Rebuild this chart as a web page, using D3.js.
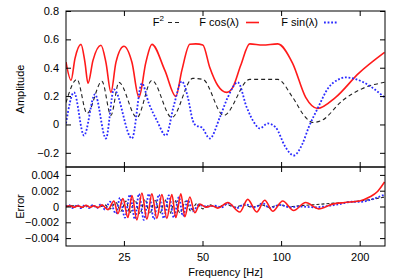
<!DOCTYPE html>
<html>
<head>
<meta charset="utf-8">
<script src="https://cdn.jsdelivr.net/npm/d3@7"></script>
<style>
  body { margin: 0; background: #fff; }
  text { font-family: "Liberation Sans", Arial, sans-serif; font-size: 11px; fill: #000; }
</style>
</head>
<body>
<div id="chart"></div>
<script>
// Top panel: amplitude curves (frequency in Hz, value)
var cosFreq = [15.0, 15.68, 16.24, 17.12, 17.73, 18.21, 19.03, 20.42, 21.33, 22.30, 23.30, 25.0, 26.83, 28.53, 30.34, 31.99, 35.87, 39.52, 41.67, 44.71, 47.13, 50.13, 53.31, 57.20, 61.92, 65.29, 70.05, 75.83, 85.03, 97.04, 110.7, 124.2, 138.0, 161.7, 198.1, 249];
var cosVal  = [0.44, 0.311, 0.466, 0.565, 0.438, 0.29, 0.452, 0.558, 0.438, 0.226, 0.438, 0.551, 0.438, 0.191, 0.438, 0.565, 0.381, 0.198, 0.381, 0.565, 0.568, 0.561, 0.402, 0.275, 0.226, 0.261, 0.417, 0.568, 0.56, 0.568, 0.431, 0.191, 0.113, 0.191, 0.36, 0.508];

var sqFreq = [15.0, 16.53, 18.05, 20.60, 22.30, 23.92, 28.03, 31.99, 38.15, 45.90, 50.13, 60.31, 75.83, 97.04, 110.7, 124.2, 132.1, 143.0, 172.0, 205.2, 249];
var sqVal  = [0.155, 0.318, 0.078, 0.304, 0.064, 0.297, 0.049, 0.311, 0.049, 0.325, 0.318, 0.064, 0.318, 0.318, 0.191, 0.049, 0.014, 0.028, 0.169, 0.254, 0.297];

var sinFreq = [15.0, 16.10, 17.58, 19.37, 21.33, 22.89, 26.83, 29.29, 31.16, 33.43, 36.19, 38.83, 41.67, 43.93, 45.90, 47.13, 49.69, 53.31, 58.23, 62.47, 68.22, 73.86, 79.24, 82.81, 88.86, 95.35, 104.1, 111.7, 120.9, 127.5, 138.0, 152.1, 166.1, 176.6, 207.0, 249];
var sinVal  = [0.007, 0.226, -0.078, 0.212, -0.099, 0.247, -0.099, 0.29, 0.148, 0.028, -0.078, 0.134, 0.304, 0.191, 0.028, -0.007, -0.021, -0.099, 0.049, 0.191, 0.297, 0.12, 0.007, -0.028, 0.007, -0.021, -0.162, -0.219, -0.134, -0.021, 0.113, 0.261, 0.318, 0.332, 0.297, 0.191];

// Bottom panel: errors
var errCosFreq = [15.0, 15.54, 16.10, 16.67, 17.27, 17.89, 18.53, 19.20, 19.88, 20.60, 21.71, 22.89, 23.71, 24.78, 25.90, 26.83, 28.03, 29.29, 30.61, 31.99, 33.43, 34.94, 36.51, 38.15, 39.52, 41.30, 42.78, 44.71, 46.72, 48.82, 51.47, 54.26, 57.20, 62.47, 69.44, 74.51, 80.65, 86.54, 92.86, 101.4, 111.7, 124.2, 139.2, 157.5, 175.1, 199.8, 218.2, 234.1, 249];
var errCosVal  = [0, 0.0001, -0.0001, 0.0001, -0.0001, 0.00015, -0.0001, 0.0001, -0.00015, 0.0002, -0.0004, 0.0007, -0.0009, 0.001, -0.0014, 0.0014, -0.0017, 0.0017, -0.0016, 0.0016, -0.0015, 0.0015, -0.0015, 0.0015, -0.0014, 0.0016, -0.0013, 0.0012, -0.0008, 0.0003, -0.0001, 0.0001, -0.0002, 0.0005, -0.0007, 0.0009, -0.0007, 0.0008, -0.0006, 0.0007, -0.0005, 0.0005, -0.0003, 0.0003, 0.0005, 0.0007, 0.0012, 0.0019, 0.0031];

var errSinFreq = [15.0, 15.40, 15.95, 16.53, 17.12, 17.73, 18.37, 19.03, 19.71, 20.42, 21.15, 22.10, 23.30, 24.14, 25.22, 26.36, 27.54, 28.53, 29.81, 31.16, 32.56, 34.02, 35.56, 37.16, 38.83, 40.58, 42.03, 43.93, 45.90, 48.39, 51.93, 55.71, 59.26, 62.47, 67.63, 72.56, 79.24, 85.03, 90.43, 98.76, 107.9, 117.8, 134.4, 153.4, 167.5, 186.2, 203.4, 222.1, 249];
var errSinVal  = [0, 0.0002, -0.0002, 0.0002, -0.0002, 0.0002, -0.0002, 0.0002, -0.0002, 0.0003, -0.0004, 0.0006, -0.0009, 0.0011, -0.0014, 0.0015, -0.0016, 0.0016, -0.0017, 0.0016, -0.0016, 0.0015, -0.0015, 0.0014, -0.0014, 0.0012, -0.0012, 0.0008, -0.0006, 0.0002, 0, 0.0001, -0.0001, 0.0004, -0.0002, 0.0003, -0.0001, 0.0004, -0.0002, 0.0002, -0.0001, 0, -0.0001, 0.0001, 0.0003, 0.0006, 0.0006, 0.0009, 0.0015];

var errSqFreq = [15.0, 16.24, 17.42, 18.69, 20.06, 21.15, 22.10, 23.30, 24.35, 25.45, 26.36, 27.54, 28.78, 30.08, 31.43, 32.85, 34.33, 35.87, 37.49, 39.18, 40.94, 43.16, 45.10, 47.55, 50.13, 53.31, 57.20, 61.38, 66.45, 71.93, 77.18, 83.55, 90.43, 98.76, 107.9, 117.8, 130.9, 143.0, 156.1, 175.1, 199.8, 222.1, 249];
var errSqVal  = [0, 0.0001, -0.0001, 0.0001, -0.0001, 0.0002, -0.0003, 0.0005, -0.0006, 0.0007, -0.0008, 0.0008, -0.0009, 0.0009, -0.0009, 0.0009, -0.0009, 0.0009, -0.0009, 0.0008, -0.0008, 0.0007, -0.0006, 0.0004, -0.0003, 0.0002, -0.0001, 0.0003, -0.0001, 0.0002, -0.0001, 0.0002, -0.0001, 0.0002, 0, 0.0001, 0.0002, 0.0003, 0.0004, 0.0005, 0.0007, 0.0009, 0.0012];

var xTicks = [25, 50, 100, 200];
var ampTicks = [-0.2, 0, 0.2, 0.4, 0.6, 0.8];
var errTicks = [-0.004, -0.002, 0, 0.002, 0.004];

var svgWidth = 399, svgHeight = 279;
var left = 66, right = 385, top1 = 11, mid = 167, bottom2 = 246;

var svg = d3.select("#chart").append("svg")
    .attr("width", svgWidth)
    .attr("height", svgHeight);

svg.append("rect").attr("width", svgWidth).attr("height", svgHeight).attr("fill", "#fff");

var x = d3.scaleLog().domain([15, 250]).range([left, right]);
var yAmp = d3.scaleLinear().domain([-0.3, 0.8]).range([mid, top1]);
var yErr = d3.scaleLinear().domain([-0.005, 0.005]).range([bottom2, mid]);

// clip regions
var defs = svg.append("defs");
defs.append("clipPath").attr("id", "clipTop").append("rect")
    .attr("x", left).attr("y", top1).attr("width", right - left).attr("height", mid - top1);
defs.append("clipPath").attr("id", "clipBot").append("rect")
    .attr("x", left).attr("y", mid).attr("width", right - left).attr("height", bottom2 - mid);

function zipped(f, v) { return f.map((d, i) => [d, v[i]]); }

function drawLine(g, f, v, y, color, width, dash) {
    var line = d3.line()
        .x(d => x(d[0]))
        .y(d => y(d[1]))
        .curve(d3.curveMonotoneX);
    g.append("path")
        .datum(zipped(f, v))
        .attr("d", line)
        .attr("fill", "none")
        .attr("stroke", color)
        .attr("stroke-width", width)
        .attr("stroke-dasharray", dash);
}

var topG = svg.append("g").attr("clip-path", "url(#clipTop)");
drawLine(topG, sqFreq, sqVal, yAmp, "#222", 1.1, "4,3");
drawLine(topG, cosFreq, cosVal, yAmp, "#ff1a1a", 1.6, null);
drawLine(topG, sinFreq, sinVal, yAmp, "#2a2aff", 1.8, "1.8,1.8");

var botG = svg.append("g").attr("clip-path", "url(#clipBot)");
drawLine(botG, errSqFreq, errSqVal, yErr, "#222", 1.1, "3,2");
drawLine(botG, errSinFreq, errSinVal, yErr, "#2a2aff", 1.8, "1.8,1.8");
drawLine(botG, errCosFreq, errCosVal, yErr, "#ff1a1a", 1.6, null);

// axes (ticks inward, gnuplot style)
var tick = 5;
function plain(axis) { return axis.tickSizeOuter(0); }

var ampFmt = d => d === 0 ? "0" : d3.format(".1f")(d);
var errFmt = d => d === 0 ? "0" : d3.format(".3f")(d);

svg.append("g").attr("transform", `translate(${left},0)`)
    .call(plain(d3.axisLeft(yAmp).tickValues(ampTicks).tickSize(-tick).tickPadding(7).tickFormat(ampFmt)));
svg.append("g").attr("transform", `translate(${right},0)`)
    .call(plain(d3.axisRight(yAmp).tickValues(ampTicks).tickSize(-tick).tickFormat("")));
svg.append("g").attr("transform", `translate(${left},0)`)
    .call(plain(d3.axisLeft(yErr).tickValues(errTicks).tickSize(-tick).tickPadding(7).tickFormat(errFmt)));
svg.append("g").attr("transform", `translate(${right},0)`)
    .call(plain(d3.axisRight(yErr).tickValues(errTicks).tickSize(-tick).tickFormat("")));

svg.append("g").attr("transform", `translate(0,${top1})`)
    .call(plain(d3.axisTop(x).tickValues(xTicks).tickSize(-tick).tickFormat("")));
svg.append("g").attr("transform", `translate(0,${mid})`)
    .call(plain(d3.axisBottom(x).tickValues(xTicks).tickSize(-tick).tickFormat("")));
svg.append("g").attr("transform", `translate(0,${mid})`)
    .call(plain(d3.axisTop(x).tickValues(xTicks).tickSize(-tick).tickFormat("")));
svg.append("g").attr("transform", `translate(0,${bottom2})`)
    .call(plain(d3.axisBottom(x).tickValues(xTicks).tickSize(-tick).tickPadding(7).tickFormat(d3.format("d"))));

svg.selectAll(".domain").remove();
svg.selectAll(".tick line").attr("stroke", "#000");
svg.selectAll(".tick text").attr("font-size", 11).attr("font-family", "Liberation Sans, Arial, sans-serif");

// frames
svg.append("rect").attr("x", left).attr("y", top1).attr("width", right - left).attr("height", mid - top1)
    .attr("fill", "none").attr("stroke", "#000").attr("stroke-width", 1);
svg.append("rect").attr("x", left).attr("y", mid).attr("width", right - left).attr("height", bottom2 - mid)
    .attr("fill", "none").attr("stroke", "#000").attr("stroke-width", 1);

// axis labels
svg.append("text")
    .attr("transform", `translate(24,${(top1 + mid) / 2}) rotate(-90)`)
    .attr("text-anchor", "middle")
    .text("Amplitude");
svg.append("text")
    .attr("transform", `translate(24,${(mid + bottom2) / 2}) rotate(-90)`)
    .attr("text-anchor", "middle")
    .text("Error");
svg.append("text")
    .attr("x", (left + right) / 2)
    .attr("y", 276)
    .attr("text-anchor", "middle")
    .text("Frequency [Hz]");

// legend
var legY = 26, sampleY = 22.5;
var leg = svg.append("g");
var t1 = leg.append("text").attr("x", 164).attr("y", legY).attr("text-anchor", "end");
t1.append("tspan").text("F");
t1.append("tspan").attr("dy", -5).attr("font-size", 8).text("2");
leg.append("line").attr("x1", 168).attr("x2", 180).attr("y1", sampleY).attr("y2", sampleY)
    .attr("stroke", "#222").attr("stroke-width", 1.1).attr("stroke-dasharray", "4,3");

leg.append("text").attr("x", 239).attr("y", legY).attr("text-anchor", "end").text("F cos(λ)");
leg.append("line").attr("x1", 246).attr("x2", 259).attr("y1", sampleY).attr("y2", sampleY)
    .attr("stroke", "#ff1a1a").attr("stroke-width", 1.6);

leg.append("text").attr("x", 318).attr("y", legY).attr("text-anchor", "end").text("F sin(λ)");
leg.append("line").attr("x1", 324).attr("x2", 337).attr("y1", sampleY).attr("y2", sampleY)
    .attr("stroke", "#2a2aff").attr("stroke-width", 1.8).attr("stroke-dasharray", "1.8,1.8");
</script>
</body>
</html>
